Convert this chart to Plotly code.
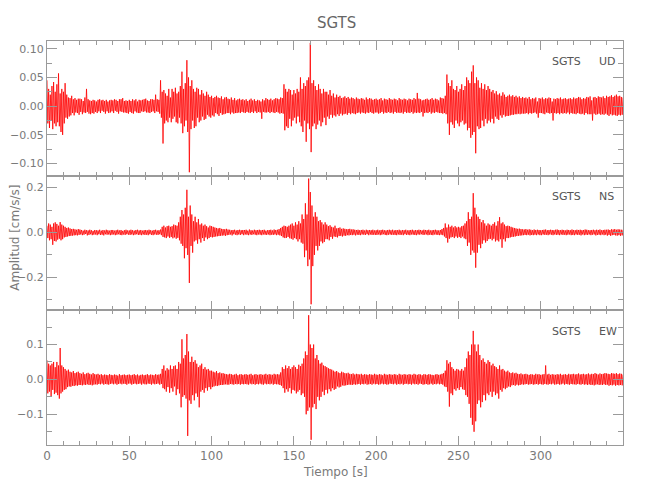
import numpy as np
import plotly.graph_objects as go
from plotly.subplots import make_subplots

# Amplitudes in units of 0.001 cm/s/s, two samples per second (t = 0 .. 350 s)
SAMPLES_PER_S = 2

ud_milli = [
    45, -30, 30, -38, 20, -25, 35, -40, 42, -30, 25, -35, 38, -28, 57, -35, 22, -45, 30, -50,
    25, -30, 40, -20, 20, -22, 15, -18, 14, -16, 18, -12, 12, -16, 14, -11, 11, -12, 13, -15,
    13, -10, 12, -14, 9, -11, 15, -12, 30, -10, 12, -13, 10, -14, 9, -12, 11, -13, 10, -10,
    8, -12, 11, -9, 12, -12, 10, -8, 11, -10, 9, -13, 11, -9, 8, -12, 10, -11, 11, -9,
    10, -12, 12, -8, 11, -10, 9, -13, 12, -9, 12, -10, 14, -11, 9, -11, 10, -12, 9, -13,
    11, -10, 9, -12, 12, -13, 10, -9, 12, -11, 8, -12, 11, -12, 10, -9, 11, -10, 12, -9,
    13, -11, 10, -11, 9, -12, 12, -10, 12, -9, 11, -12, 20, -9, 12, -10, 11, -13, 45, -20,
    25, -65, 28, -30, 22, -25, 18, -28, 30, -20, 15, -28, 30, -22, 25, -18, 32, -28, 22, -30,
    25, -20, 35, -30, 60, -47, 30, -35, 40, -25, 80, -45, 50, -115, 35, -40, 45, -25, 30, -38,
    25, -35, 32, -20, 30, -28, 20, -25, 28, -18, 22, -24, 18, -22, 25, -15, 20, -18, 16, -20,
    18, -16, 14, -18, 16, -12, 18, -14, 15, -17, 14, -12, 17, -15, 12, -14, 15, -13, 16, -12,
    13, -12, 12, -14, 15, -11, 11, -13, 14, -12, 10, -12, 12, -11, 13, -12, 11, -10, 12, -11,
    10, -12, 12, -10, 9, -11, 11, -12, 13, -10, 10, -12, 12, -9, 9, -12, 11, -10, 10, -11,
    8, -22, 12, -10, 10, -11, 14, -11, 12, -10, 11, -12, 13, -10, 10, -11, 12, -12, 14, -10,
    13, -11, 12, -13, 15, -12, 14, -13, 38, -42, 30, -35, 25, -38, 30, -22, 28, -35, 20, -25,
    28, -20, 22, -30, 30, -18, 25, -28, 50, -35, 30, -45, 40, -25, 35, -62, 45, -30, 50, -40,
    110, -80, 40, -35, 45, -30, 35, -40, 28, -32, 38, -25, 30, -35, 22, -28, 30, -20, 25, -33,
    25, -18, 20, -22, 28, -15, 18, -20, 22, -16, 15, -18, 20, -14, 16, -17, 18, -13, 14, -16,
    15, -14, 17, -13, 14, -15, 16, -12, 13, -14, 15, -12, 14, -13, 12, -14, 15, -12, 13, -11,
    12, -13, 14, -11, 13, -12, 11, -13, 15, -11, 12, -12, 14, -10, 13, -12, 11, -13, 12, -11,
    13, -11, 11, -13, 12, -12, 14, -10, 10, -13, 13, -11, 12, -12, 11, -10, 14, -12, 12, -11,
    11, -13, 13, -10, 12, -12, 10, -11, 14, -12, 12, -11, 11, -13, 13, -10, 12, -12, 10, -11,
    13, -12, 12, -10, 11, -13, 14, -11, 12, -12, 23, -11, 13, -12, 12, -10, 10, -18, 11, -12,
    12, -11, 13, -12, 11, -10, 12, -13, 14, -11, 11, -12, 13, -10, 12, -11, 10, -12, 15, -12,
    14, -13, 13, -12, 18, -14, 55, -30, 40, -50, 35, -28, 45, -32, 30, -38, 28, -25, 35, -30,
    25, -35, 30, -28, 38, -25, 28, -32, 35, -30, 50, -42, 45, -38, 40, -55, 60, -50, 71, -45,
    40, -82, 50, -35, 45, -40, 32, -38, 40, -25, 30, -35, 38, -22, 28, -30, 35, -25, 30, -28,
    25, -22, 28, -30, 22, -18, 26, -22, 20, -24, 22, -16, 18, -20, 24, -15, 20, -18, 16, -17,
    18, -17, 20, -16, 17, -15, 19, -15, 16, -14, 18, -14, 15, -13, 17, -14, 14, -13, 16, -13,
    14, -13, 15, -12, 13, -14, 16, -12, 12, -13, 14, -12, 13, -11, 15, -13, 8, -20, 14, -12,
    13, -12, 15, -13, 12, -14, 14, -11, 13, -12, 15, -13, 14, -12, 8, -25, 13, -12, 12, -13,
    14, -12, 13, -14, 15, -12, 12, -13, 13, -12, 14, -13, 12, -11, 13, -14, 14, -12, 12, -13,
    15, -13, 13, -14, 14, -12, 16, -13, 15, -14, 12, -13, 14, -15, 13, -12, 16, -14, 15, -14,
    17, -14, 10, -25, 15, -13, 16, -15, 14, -14, 17, -13, 16, -15, 15, -14, 17, -15, 14, -13,
    18, -15, 16, -17, 17, -14, 19, -16, 16, -15, 18, -16, 20, -17, 17, -15, 18, -16, 16, -15,
    15,
]

ns_milli = [
    30, -25, 40, -35, 35, -30, 25, -55, 40, -38, 45, -40, 38, -32, 30, -28, 46, -35, 35, -30,
    30, -22, 25, -20, 20, -18, 22, -16, 18, -15, 15, -14, 16, -13, 14, -12, 12, -13, 15, -11,
    13, -9, 11, -12, 8, -10, 12, -7, 10, -13, 9, -11, 12, -8, 10, -12, 7, -10, 11, -9,
    10, -12, 9, -8, 12, -11, 8, -10, 11, -13, 9, -8, 12, -10, 10, -9, 8, -12, 11, -10,
    11, -9, 8, -12, 10, -10, 12, -8, 9, -11, 11, -12, 7, -9, 10, -11, 12, -8, 9, -10,
    9, -11, 12, -9, 10, -12, 8, -10, 11, -8, 12, -11, 9, -10, 11, -12, 8, -9, 10, -11,
    11, -10, 9, -12, 12, -8, 10, -11, 8, -12, 11, -9, 12, -10, 9, -11, 10, -8, 13, -12,
    25, -20, 30, -22, 22, -25, 28, -18, 30, -24, 25, -20, 28, -26, 35, -22, 32, -28, 30, -24,
    45, -35, 70, -50, 100, -60, 80, -115, 110, -70, 190, -100, 70, -225, 120, -60, 80, -90, 50, -40,
    70, -35, 45, -50, 60, -30, 35, -45, 40, -25, 30, -38, 35, -22, 28, -30, 22, -25, 30, -20,
    28, -22, 25, -20, 22, -18, 20, -17, 18, -16, 20, -15, 16, -14, 15, -13, 14, -15, 16, -12,
    13, -11, 12, -9, 10, -13, 11, -8, 12, -10, 9, -12, 11, -9, 12, -11, 10, -8, 11, -12,
    11, -9, 12, -10, 8, -12, 13, -9, 10, -11, 9, -8, 12, -10, 10, -12, 11, -9, 12, -10,
    10, -12, 11, -9, 12, -10, 8, -11, 10, -9, 11, -12, 12, -10, 9, -11, 13, -9, 11, -12,
    12, -10, 15, -13, 20, -16, 25, -22, 30, -25, 28, -24, 25, -20, 30, -26, 35, -28, 40, -32,
    30, -25, 45, -30, 35, -40, 50, -30, 40, -45, 80, -50, 60, -110, 130, -80, 80, -150, 240, -120,
    180, -320, 120, -150, 70, -100, 90, -60, 70, -80, 50, -60, 55, -40, 45, -48, 35, -42, 45, -30,
    35, -30, 28, -35, 32, -20, 25, -28, 22, -18, 30, -20, 18, -22, 20, -16, 22, -15, 16, -18,
    18, -14, 16, -15, 14, -12, 15, -13, 16, -11, 13, -12, 14, -10, 12, -13, 11, -10, 12, -11,
    10, -12, 11, -9, 12, -10, 9, -11, 12, -8, 10, -12, 11, -9, 10, -11, 12, -10, 9, -11,
    10, -11, 12, -9, 9, -12, 11, -10, 12, -8, 10, -11, 9, -12, 11, -10, 12, -9, 10, -11,
    12, -10, 9, -11, 11, -12, 10, -9, 12, -11, 9, -10, 11, -12, 10, -8, 12, -11, 9, -10,
    10, -12, 11, -9, 12, -10, 9, -11, 11, -12, 10, -9, 12, -10, 11, -8, 9, -11, 12, -10,
    11, -9, 10, -12, 12, -10, 9, -11, 10, -12, 11, -9, 12, -10, 10, -11, 9, -12, 11, -10,
    15, -12, 20, -18, 40, -25, 22, -45, 35, -28, 25, -22, 30, -20, 22, -25, 28, -18, 22, -24,
    25, -20, 22, -25, 28, -18, 30, -26, 40, -30, 50, -60, 90, -45, 60, -100, 70, -80, 175, -90,
    110, -157, 80, -90, 70, -55, 60, -70, 45, -50, 55, -35, 40, -45, 30, -38, 40, -30, 35, -28,
    30, -35, 38, -28, 45, -40, 30, -35, 50, -40, 68, -30, 40, -68, 45, -30, 35, -40, 28, -25,
    30, -25, 28, -22, 25, -20, 22, -19, 20, -18, 18, -16, 16, -15, 17, -14, 15, -13, 14, -12,
    13, -11, 15, -12, 12, -10, 14, -13, 12, -11, 10, -12, 13, -10, 11, -12, 12, -9, 11, -12,
    10, -12, 11, -9, 12, -11, 13, -10, 10, -12, 11, -9, 12, -10, 11, -12, 10, -9, 12, -11,
    13, -10, 11, -12, 10, -9, 12, -11, 11, -10, 9, -12, 12, -10, 11, -9, 10, -12, 13, -11,
    11, -12, 10, -9, 12, -11, 11, -10, 12, -13, 10, -9, 11, -12, 13, -10, 12, -11, 10, -9,
    10, -12, 11, -10, 12, -9, 10, -13, 12, -11, 11, -10, 13, -12, 10, -9, 11, -12, 12, -10,
    12, -14, 13, -11, 11, -15, 14, -12, 13, -11, 15, -13, 12, -14, 14, -12, 13, -15, 12, -13,
    12,
]

ew_milli = [
    55, -40, 45, -35, 40, -50, 45, -30, 50, -42, 35, -38, 50, -45, 40, -55, 90, -40, 40, -35,
    35, -30, 30, -28, 25, -22, 28, -20, 22, -21, 20, -18, 24, -19, 18, -17, 20, -18, 22, -16,
    18, -16, 16, -17, 20, -15, 15, -16, 17, -14, 19, -16, 16, -15, 14, -17, 18, -15, 15, -14,
    14, -15, 16, -13, 13, -14, 15, -12, 12, -15, 14, -13, 13, -14, 12, -15, 15, -13, 13, -12,
    12, -14, 14, -12, 13, -15, 11, -13, 15, -12, 12, -14, 13, -12, 14, -13, 12, -15, 13, -12,
    14, -12, 12, -15, 13, -13, 15, -12, 12, -14, 14, -13, 11, -12, 13, -15, 14, -12, 12, -14,
    13, -14, 15, -12, 12, -13, 14, -15, 13, -12, 12, -14, 15, -13, 13, -12, 14, -15, 16, -13,
    30, -25, 40, -28, 25, -35, 32, -22, 28, -38, 40, -25, 30, -35, 38, -20, 40, -45, 30, -28,
    50, -40, 45, -80, 115, -50, 60, -45, 70, -55, 130, -162, 80, -60, 50, -70, 65, -45, 50, -60,
    55, -40, 45, -50, 35, -80, 40, -35, 45, -30, 30, -38, 35, -25, 28, -32, 30, -22, 25, -28,
    25, -22, 22, -20, 20, -18, 24, -19, 18, -17, 20, -16, 17, -16, 18, -15, 16, -14, 15, -15,
    14, -15, 16, -13, 15, -14, 13, -15, 14, -13, 16, -14, 12, -13, 14, -15, 15, -13, 13, -14,
    14, -13, 15, -14, 13, -15, 14, -12, 16, -14, 12, -13, 14, -15, 15, -13, 13, -14, 14, -12,
    15, -14, 13, -15, 14, -12, 16, -14, 13, -13, 15, -14, 14, -12, 13, -15, 16, -13, 14, -14,
    15, -14, 14, -16, 20, -18, 35, -25, 30, -38, 40, -28, 32, -35, 38, -25, 30, -40, 35, -30,
    40, -32, 35, -40, 30, -35, 42, -30, 38, -45, 45, -40, 60, -50, 80, -100, 70, -90, 184, -80,
    100, -173, 90, -80, 100, -70, 60, -85, 70, -50, 55, -60, 45, -50, 48, -35, 40, -45, 38, -30,
    35, -40, 32, -28, 30, -34, 28, -25, 25, -30, 22, -27, 24, -20, 20, -23, 18, -21, 22, -17,
    20, -18, 18, -17, 17, -16, 19, -15, 16, -15, 15, -16, 17, -14, 14, -15, 16, -14, 15, -13,
    14, -15, 16, -13, 13, -14, 15, -12, 14, -15, 13, -14, 15, -13, 14, -15, 13, -12, 16, -14,
    14, -13, 13, -15, 15, -14, 14, -12, 12, -14, 16, -13, 14, -15, 13, -14, 15, -12, 14, -13,
    13, -14, 15, -12, 14, -15, 12, -13, 16, -14, 14, -12, 13, -15, 15, -13, 14, -12, 13, -14,
    15, -13, 14, -15, 13, -12, 16, -14, 14, -13, 13, -15, 15, -12, 14, -13, 12, -15, 15, -14,
    14, -13, 13, -15, 15, -14, 14, -12, 13, -15, 12, -13, 14, -14, 15, -12, 13, -14, 14, -13,
    16, -15, 18, -20, 25, -22, 55, -35, 45, -78, 50, -40, 35, -45, 30, -28, 25, -32, 30, -25,
    28, -30, 25, -22, 30, -28, 25, -30, 35, -45, 60, -50, 80, -70, 70, -110, 100, -130, 139, -150,
    100, -120, 80, -70, 100, -60, 70, -80, 55, -65, 60, -45, 50, -60, 45, -40, 55, -45, 50, -35,
    40, -50, 45, -35, 38, -45, 35, -40, 30, -55, 40, -30, 28, -35, 30, -25, 25, -28, 22, -24,
    25, -20, 20, -22, 18, -17, 20, -16, 17, -18, 19, -15, 16, -17, 15, -16, 17, -14, 14, -15,
    15, -14, 16, -13, 14, -15, 13, -14, 15, -13, 14, -15, 13, -14, 16, -13, 14, -15, 15, -13,
    13, -14, 14, -15, 15, -13, 40, -14, 14, -15, 16, -13, 13, -14, 15, -12, 14, -15, 13, -14,
    15, -13, 14, -15, 16, -14, 13, -12, 14, -15, 15, -13, 13, -14, 16, -15, 14, -13, 15, -14,
    16, -14, 14, -15, 15, -13, 17, -14, 14, -15, 15, -13, 16, -15, 14, -14, 15, -16, 17, -14,
    14, -16, 16, -15, 15, -17, 18, -15, 16, -14, 14, -16, 17, -15, 15, -16, 16, -14, 18, -16,
    17, -15, 16, -18, 15, -16, 18, -17, 17, -15, 16, -18, 18, -16, 15, -17, 17, -16, 16, -17,
    14,
]

station = "SGTS"
components = ["UD", "NS", "EW"]
x_tickvals = [0, 50, 100, 150, 200, 250, 300]

FONT = "DejaVu Sans, sans-serif"
GRAY = "#7a7a7a"
LINE = "#9a9a9a"

series = [np.array(v) / 1000.0 for v in (ud_milli, ns_milli, ew_milli)]

fig = make_subplots(rows=3, cols=1, shared_xaxes=True, vertical_spacing=0)

for i, vals in enumerate(series):
    t = np.arange(len(vals)) / SAMPLES_PER_S
    fig.add_trace(go.Scatter(x=t, y=vals, mode="lines",
                             line=dict(color="#ff0000", width=0.8),
                             showlegend=False, hoverinfo="skip"),
                  row=i + 1, col=1)

y_setups = [
    dict(range=[-0.121, 0.1134], tickvals=[-0.1, -0.05, 0, 0.05, 0.1], tickformat=".2f", minor_dtick=0.025),
    dict(range=[-0.347, 0.253], tickvals=[-0.2, 0, 0.2], tickformat=".1f", minor_dtick=0.1),
    dict(range=[-0.188, 0.198], tickvals=[-0.1, 0, 0.1], tickformat=".1f", minor_dtick=0.05),
]

for i, ys in enumerate(y_setups):
    fig.update_yaxes(range=ys["range"], tickvals=ys["tickvals"], tickformat=ys["tickformat"],
                     ticks="inside", ticklen=10, tickcolor=LINE, tickwidth=1,
                     minor=dict(dtick=ys["minor_dtick"], tick0=0, ticks="inside", ticklen=5,
                                tickcolor=LINE, showgrid=False),
                     showline=True, linecolor=LINE, linewidth=1, mirror="allticks",
                     showgrid=False, zeroline=False, automargin=False,
                     tickfont=dict(family=FONT, size=11, color=GRAY),
                     row=i + 1, col=1)
    fig.update_xaxes(range=[0, 350], tickvals=x_tickvals,
                     ticks="inside", ticklen=9, tickcolor=LINE, tickwidth=1,
                     minor=dict(dtick=10, tick0=0, ticks="inside", ticklen=4,
                                tickcolor=LINE, showgrid=False),
                     showline=True, linecolor=LINE, linewidth=1, mirror="allticks",
                     showgrid=False, zeroline=False, automargin=False,
                     showticklabels=(i == 2),
                     tickfont=dict(family=FONT, size=12, color=GRAY),
                     row=i + 1, col=1)

annotations = []
ann_y = [0.950, 0.616, 0.280]
for comp, yy in zip(components, ann_y):
    annotations.append(dict(text=station, x=0.931, y=yy, xref="paper", yref="paper",
                            xanchor="right", yanchor="middle", showarrow=False,
                            font=dict(family=FONT, size=11, color="#555555")))
    annotations.append(dict(text=comp, x=0.954, y=yy, xref="paper", yref="paper",
                            xanchor="left", yanchor="middle", showarrow=False,
                            font=dict(family=FONT, size=11, color="#555555")))

annotations.append(dict(text=station, x=0.502, y=1.045, xref="paper", yref="paper",
                        xanchor="center", yanchor="middle", showarrow=False,
                        font=dict(family=FONT, size=15, color="#666666")))
annotations.append(dict(text="Tiempo [s]", x=0.500, y=-0.067, xref="paper", yref="paper",
                        xanchor="center", yanchor="middle", showarrow=False,
                        font=dict(family=FONT, size=12, color=GRAY)))
annotations.append(dict(text="Amplitud [cm/s/s]", x=-0.0545, y=0.512, xref="paper", yref="paper",
                        xanchor="center", yanchor="middle", showarrow=False, textangle=-90,
                        font=dict(family=FONT, size=12, color=GRAY)))

# The page body adds an 8px margin, so the figure is 16px smaller than the window
fig.update_layout(
    width=634, height=484,
    margin=dict(l=39, r=19, t=33, b=47),
    paper_bgcolor="white", plot_bgcolor="white",
    showlegend=False,
    annotations=annotations,
)

fig.write_html("out.html")
